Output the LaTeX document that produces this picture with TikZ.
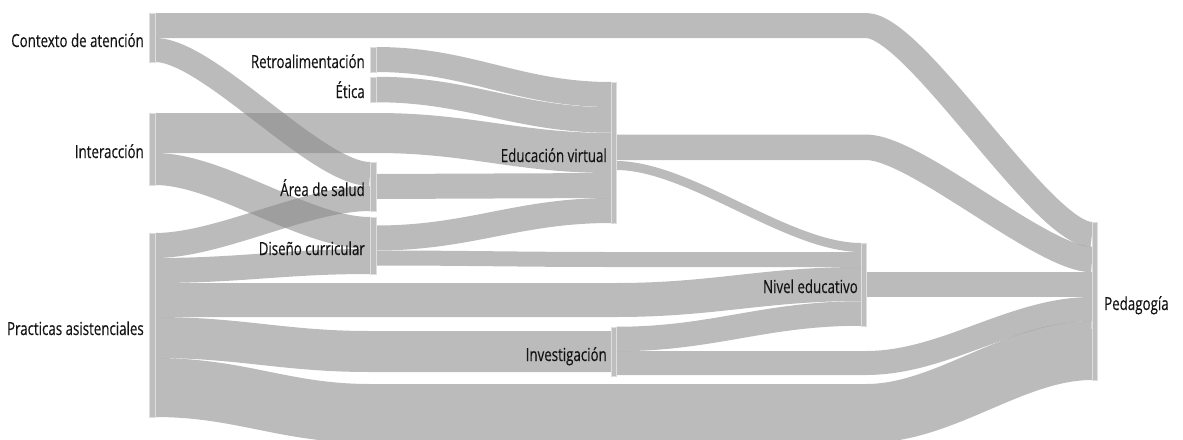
\documentclass[tikz,border=0pt]{standalone}
\usepackage{fontspec}
\setmainfont{Open Sans}[FakeStretch=0.74,FakeBold=0.35]
\definecolor{linkc}{RGB}{136,136,136}
\definecolor{barc}{RGB}{190,190,190}
\definecolor{barl}{RGB}{222,222,222}
\definecolor{txtc}{RGB}{20,20,20}
\tikzset{
  link/.style={draw=linkc, draw opacity=0.57, line cap=butt, line join=round},
  bar/.style={fill=barc, draw=barl, line width=0.8pt},
  lbl/.style={text=txtc, inner sep=0pt, font=\fontsize{18}{20}\selectfont},
}
\begin{document}
\begin{tikzpicture}[x=1pt,y=-1pt]
\useasboundingbox (0,0) rectangle (1183,439);
% ---------- links (centre lines, width = flow) ----------
% Contexto -> Pedagogia
\draw[link, line width=25pt] (155,25.5) -- (866,25.5) .. controls (915.7,25.5) and (1042.3,234.5) .. (1092,234.5);
% Contexto -> Area de salud
\draw[link, line width=24pt] (155,50) .. controls (208.75,50) and (316.25,174) .. (370,174);
% Interaccion -> Educacion virtual
\draw[link, line width=40pt] (155,133) -- (376,133) .. controls (470,133) and (517,153) .. (611,153);
% Interaccion -> Diseno curricular
\draw[link, line width=32pt] (155,169) .. controls (219.5,169) and (305.5,233) .. (370,233);
% Practicas -> Area de salud
\draw[link, line width=25pt] (155,245.5) .. controls (219.5,245.5) and (305.5,198.5) .. (370,198.5);
% Practicas -> Diseno curricular
\draw[link, line width=25pt] (155,270.5) .. controls (241,270.5) and (284,261.5) .. (370,261.5);
% Practicas -> Nivel educativo
\draw[link, line width=34pt] (155,300) -- (616,300) .. controls (714,300) and (763,284) .. (861,284);
% Practicas -> Investigacion
\draw[link, line width=41pt] (155,337.5) .. controls (241,337.5) and (284,351.5) .. (370,351.5) -- (611,351.5);
% Practicas -> Pedagogia
\draw[link, line width=59pt] (155,387.5) .. controls (241,387.5) and (284,413.5) .. (370,413.5) -- (866,413.5) .. controls (945.1,413.5) and (1012.9,350.5) .. (1092,350.5);
% Retroalimentacion -> Educacion virtual
\draw[link, line width=25pt] (376,59.5) .. controls (470,59.5) and (517,94.5) .. (611,94.5);
% Etica -> Educacion virtual
\draw[link, line width=25.5pt] (376,89.5) .. controls (470,89.5) and (517,120) .. (611,120);
% Area de salud -> Educacion virtual
\draw[link, line width=25pt] (376,186.5) -- (611,185.5);
% Diseno -> Educacion virtual
\draw[link, line width=25pt] (376,238) .. controls (470,238) and (517,210.5) .. (611,210.5);
% Diseno -> Nivel educativo
\draw[link, line width=15pt] (376,258) .. controls (470,258) and (517,259.5) .. (611,259.5) -- (861,259.5);
% Educacion virtual -> Pedagogia
\draw[link, line width=25.5pt] (616,147.25) -- (866,147.25) .. controls (915.7,147.25) and (1042.3,259.5) .. (1092,259.5);
% Educacion virtual -> Nivel educativo
\draw[link, line width=9pt] (616,165.5) .. controls (689.5,165.5) and (787.5,247.5) .. (861,247.5);
% Nivel educativo -> Pedagogia
\draw[link, line width=25pt] (866,284.5) -- (1092,284.5);
% Investigacion -> Nivel educativo
\draw[link, line width=24.5pt] (616,339) .. controls (714,339) and (763,313.5) .. (861,313.5);
% Investigacion -> Pedagogia
\draw[link, line width=24pt] (616,363) -- (866,363) .. controls (945.1,363) and (1012.9,309) .. (1092,309);
% ---------- node bars ----------
\path[bar] (149,13) rectangle (155,62);
\path[bar] (149,113) rectangle (155,185);
\path[bar] (149,233) rectangle (155,417);
\path[bar] (370,47) rectangle (376,72);
\path[bar] (370,77) rectangle (376,102);
\path[bar] (370,162) rectangle (376,211);
\path[bar] (370,217) rectangle (376,274);
\path[bar] (611,82) rectangle (616,223);
\path[bar] (611,327) rectangle (616,376);
\path[bar] (861,243) rectangle (866,326);
\path[bar] (1092,222) rectangle (1097,380);
% ---------- labels ----------
\node[lbl, anchor=base east] (lctx) at (144,47) {Contexto de atención};
\node[lbl, anchor=base east] (lint) at (144,158) {Interacción};
\node[lbl, anchor=base east] (lpra) at (144,335) {Practicas asistenciales};
\node[lbl, anchor=base east] (lret) at (365,68) {Retroalimentación};
\node[lbl, anchor=base east] (leti) at (365,98) {Ética};
\node[lbl, anchor=base east] (lare) at (365,196) {Área de salud};
\node[lbl, anchor=base east] (ldis) at (365,255) {Diseño curricular};
\node[lbl, anchor=base east] (ledu) at (607,162) {Educación virtual};
\node[lbl, anchor=base east] (linv) at (607,361) {Investigación};
\node[lbl, anchor=base east] (lniv) at (858,293) {Nivel educativo};
\node[lbl, anchor=base west] (lped) at (1104,310) {Pedagogía};
\end{tikzpicture}
\end{document}
